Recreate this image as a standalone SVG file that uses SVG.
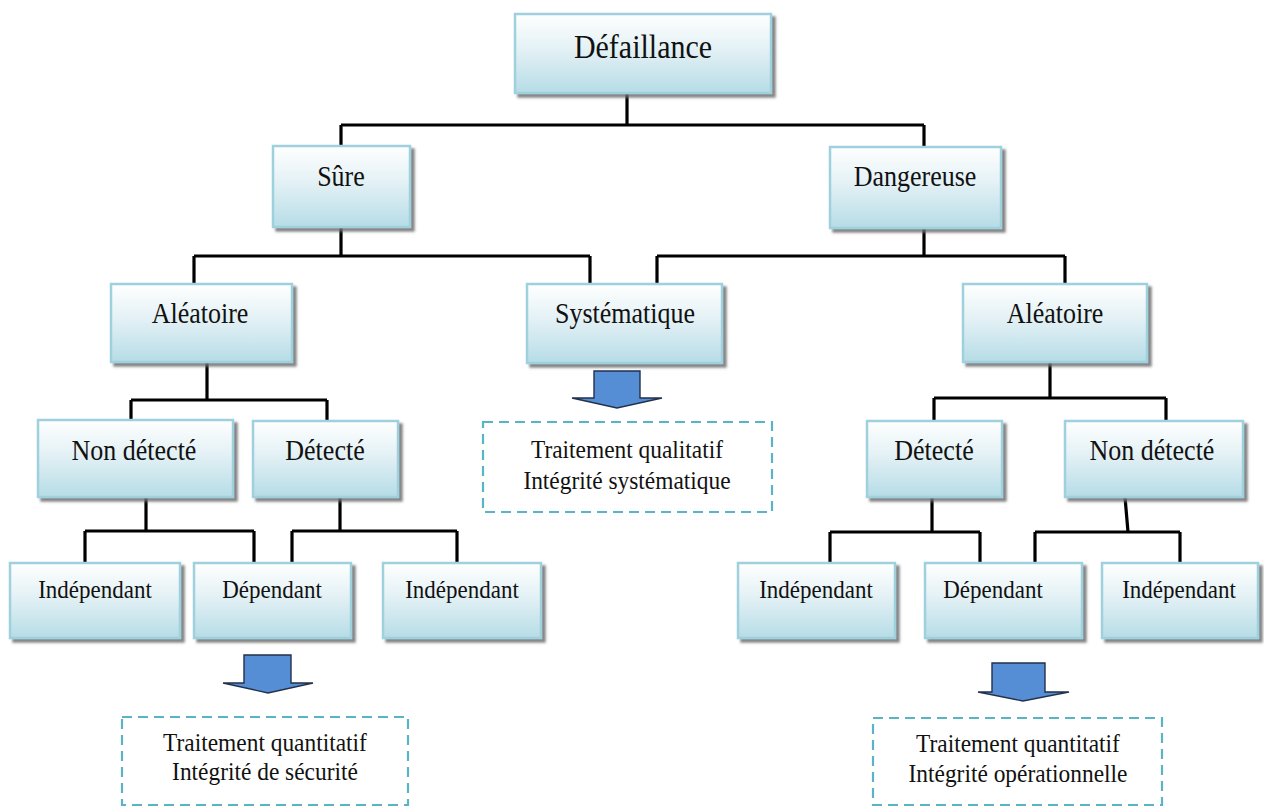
<svg xmlns="http://www.w3.org/2000/svg" width="1264" height="808" viewBox="0 0 1264 808">
  <defs>
    <linearGradient id="boxFill" x1="0" y1="0" x2="0" y2="1">
      <stop offset="0" stop-color="#ffffff"/>
      <stop offset="0.45" stop-color="#e3f1f5"/>
      <stop offset="1" stop-color="#b6dce6"/>
    </linearGradient>
    <filter id="shadow" x="-10%" y="-10%" width="125%" height="130%">
      <feDropShadow dx="3.5" dy="3.5" stdDeviation="1.2" flood-color="#6f6f6f" flood-opacity="0.85"/>
    </filter>
  </defs>
  <style>
    .box { fill: url(#boxFill); stroke: #9fd0de; stroke-width: 2.5; filter: url(#shadow); }
    .lbl { font-family: "Liberation Serif", "Times New Roman", serif; fill: #111; text-anchor: middle;
           transform-box: fill-box; transform-origin: center; transform: scaleY(1.12); }
    .l1 { font-size: 30px; }
    .l2 { font-size: 26px; }
    .l3 { font-size: 23px; }
    .note { fill: #ffffff; stroke: #5bb3c6; stroke-width: 2.2; stroke-dasharray: 10 6; }
    .nt { font-family: "Liberation Serif", "Times New Roman", serif; font-size: 23.4px; fill: #111; text-anchor: middle;
          transform-box: fill-box; transform-origin: center; transform: scaleY(1.08); }
    .link { fill: none; stroke: #000; stroke-width: 3.2; stroke-linejoin: round; }
    .arrow { fill: #558ed5; stroke: #23314a; stroke-width: 1.4; stroke-linejoin: miter; }
  </style>

  <rect width="1264" height="808" fill="#ffffff"/>

  <!-- tree connectors -->
  <g id="connectors">
    <path class="link" d="M627 93 V125 M341 125 H924 M341 125 V146 M924 125 V146"/>
    <path class="link" d="M341 227 V256 M194 256 H590 M194 256 V284 M590 256 V284"/>
    <path class="link" d="M924 228 V256 M657 256 H1065 M657 256 V284 M1065 256 V284"/>
    <path class="link" d="M207 362 V400 M131 400 H327 M131 400 V421 M327 400 V421"/>
    <path class="link" d="M1050 362 V398 M934 398 H1166 M934 398 V421 M1166 398 V421"/>
    <path class="link" d="M146 497 V531 M85 531 H254 M85 531 V563 M254 531 V563"/>
    <path class="link" d="M340 497 V531 M292 531 H457 M292 531 V563 M457 531 V563"/>
    <path class="link" d="M932 497 V532 M830 532 H980 M830 532 V563 M980 532 V563"/>
    <path class="link" d="M1125 497 L1128 532 M1035 532 H1180 M1035 532 V563 M1180 532 V563"/>
  </g>

  <!-- block arrows leading to the treatment notes -->
  <g id="arrows">
    <path class="arrow" d="M594 371 H640 V398 H662 L617 408 L572 398 H594 Z"/>
    <path class="arrow" d="M244 655 H291 V683 H313 L268 693 L223 683 H244 Z"/>
    <path class="arrow" d="M992 663 H1045 V692 H1069 L1023 701 L978 692 H992 Z"/>
  </g>

  <g id="n-defaillance">
    <rect class="box" x="515" y="14" width="256" height="79"/>
    <text class="lbl l1" x="643" y="57">Défaillance</text>
  </g>

  <g id="n-sure">
    <rect class="box" x="273" y="146" width="137" height="81"/>
    <text class="lbl l2" x="341" y="185">Sûre</text>
  </g>
  <g id="n-dangereuse">
    <rect class="box" x="830" y="147" width="171" height="81"/>
    <text class="lbl l2" x="915" y="185">Dangereuse</text>
  </g>

  <g id="n-aleatoire-s">
    <rect class="box" x="111" y="284" width="181" height="78"/>
    <text class="lbl l2" x="200" y="322">Aléatoire</text>
  </g>
  <g id="n-systematique">
    <rect class="box" x="527" y="284" width="195" height="79"/>
    <text class="lbl l2" x="625" y="322">Systématique</text>
  </g>
  <g id="n-aleatoire-d">
    <rect class="box" x="963" y="284" width="184" height="78"/>
    <text class="lbl l2" x="1055" y="322">Aléatoire</text>
  </g>

  <g id="n-non-detecte-s">
    <rect class="box" x="38" y="420" width="195" height="77"/>
    <text class="lbl l2" x="134" y="459">Non détecté</text>
  </g>
  <g id="n-detecte-s">
    <rect class="box" x="253" y="421" width="145" height="76"/>
    <text class="lbl l2" x="325" y="459">Détecté</text>
  </g>
  <g id="n-detecte-d">
    <rect class="box" x="867" y="421" width="135" height="76"/>
    <text class="lbl l2" x="934" y="459">Détecté</text>
  </g>
  <g id="n-non-detecte-d">
    <rect class="box" x="1065" y="421" width="178" height="76"/>
    <text class="lbl l2" x="1152" y="459">Non détecté</text>
  </g>

  <g id="n-independant-1">
    <rect class="box" x="10" y="563" width="170" height="75"/>
    <text class="lbl l3" x="95" y="597">Indépendant</text>
  </g>
  <g id="n-dependant-1">
    <rect class="box" x="194" y="563" width="157" height="75"/>
    <text class="lbl l3" x="272" y="597">Dépendant</text>
  </g>
  <g id="n-independant-2">
    <rect class="box" x="383" y="563" width="158" height="75"/>
    <text class="lbl l3" x="462" y="597">Indépendant</text>
  </g>
  <g id="n-independant-3">
    <rect class="box" x="738" y="563" width="157" height="75"/>
    <text class="lbl l3" x="816" y="597">Indépendant</text>
  </g>
  <g id="n-dependant-2">
    <rect class="box" x="925" y="563" width="157" height="75"/>
    <text class="lbl l3" x="993" y="597">Dépendant</text>
  </g>
  <g id="n-independant-4">
    <rect class="box" x="1102" y="563" width="156" height="75"/>
    <text class="lbl l3" x="1179" y="597">Indépendant</text>
  </g>

  <g id="note-qualitatif">
    <rect class="note" x="483" y="422" width="289" height="90"/>
    <text class="nt" x="627" y="457">Traitement qualitatif</text>
    <text class="nt" x="627" y="488">Intégrité systématique</text>
  </g>
  <g id="note-securite">
    <rect class="note" x="122" y="717" width="286" height="88"/>
    <text class="nt" x="265" y="750">Traitement quantitatif</text>
    <text class="nt" x="265" y="779">Intégrité de sécurité</text>
  </g>
  <g id="note-operationnelle">
    <rect class="note" x="873" y="718" width="289" height="87"/>
    <text class="nt" x="1018" y="751">Traitement quantitatif</text>
    <text class="nt" x="1018" y="781">Intégrité opérationnelle</text>
  </g>
</svg>
